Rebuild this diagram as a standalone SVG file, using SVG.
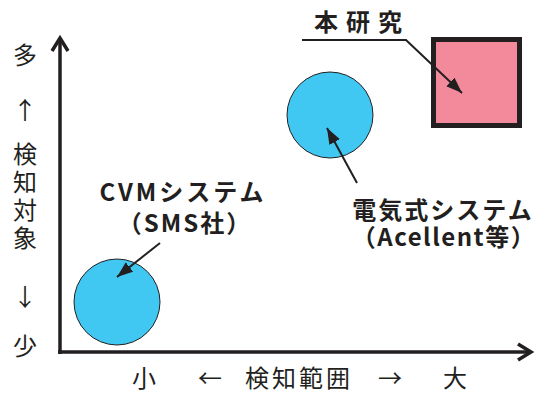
<svg xmlns="http://www.w3.org/2000/svg" width="540" height="394" viewBox="0 0 540 394">
<defs>
<style>
.ax{font-family:"Noto Sans CJK JP","Noto Sans",sans-serif;font-size:24px;fill:#231f20;text-anchor:middle}
.lb{font-family:"Noto Sans CJK JP","Noto Sans",sans-serif;font-size:24px;font-weight:bold;fill:#231f20;text-anchor:middle}
.axis{fill:none;stroke:#231f20;stroke-width:3.5;stroke-linejoin:miter}
.lead{fill:none;stroke:#231f20;stroke-width:2}
.circ{fill:#41c8f2;stroke:#231f20;stroke-width:1}
</style>
<marker id="ah" markerUnits="userSpaceOnUse" markerWidth="18" markerHeight="14" refX="16" refY="6" orient="auto">
<path d="M0,0 L16,6 L0,12 Z" fill="#231f20"/>
</marker>
</defs>
<g id="axes">
<path class="axis" d="M60,354 L60,38"/>
<path class="axis" d="M52,51 L60,38 L68,51"/>
<path class="axis" d="M58,352 L530,352"/>
<path class="axis" d="M518,344 L531,352 L518,360"/>
</g>
<g id="y-labels">
<text class="ax" x="25" y="64">多</text>
<text class="ax" x="25" y="119">↑</text>
<text class="ax" x="25" y="198" writing-mode="vertical-rl" letter-spacing="4">検知対象</text>
<text class="ax" x="25" y="306">↓</text>
<text class="ax" x="25" y="355">少</text>
</g>
<g id="x-labels">
<text class="ax" x="144" y="387">小</text>
<text class="ax" x="210" y="387">←</text>
<text class="ax" x="299" y="387" letter-spacing="3">検知範囲</text>
<text class="ax" x="390" y="387">→</text>
<text class="ax" x="455" y="387">大</text>
</g>
<g id="cvm">
<circle class="circ" cx="117" cy="302" r="43"/>
<text class="lb"><tspan x="183" y="201" letter-spacing="3">CVMシステム</tspan><tspan x="185" y="232" letter-spacing="2">（SMS社）</tspan></text>
</g>
<g id="electric">
<circle class="circ" cx="330" cy="115" r="43"/>
<text class="lb"><tspan x="443" y="219" letter-spacing="2">電気式システム</tspan><tspan x="444" y="246" letter-spacing="1.5">（Acellent等）</tspan></text>
</g>
<g id="this-study">
<rect x="433.5" y="39.5" width="86" height="86" fill="#f28a9c" stroke="#231f20" stroke-width="5"/>
<text class="lb" x="362" y="31" letter-spacing="8">本研究</text>
</g>
<g id="connectors">
<path class="lead" d="M302,40 L406,40 L462,93" marker-end="url(#ah)"/>
<path class="lead" d="M357,183 L327,128" marker-end="url(#ah)"/>
<path class="lead" d="M160,243 L117,277" marker-end="url(#ah)"/>
</g>
</svg>
